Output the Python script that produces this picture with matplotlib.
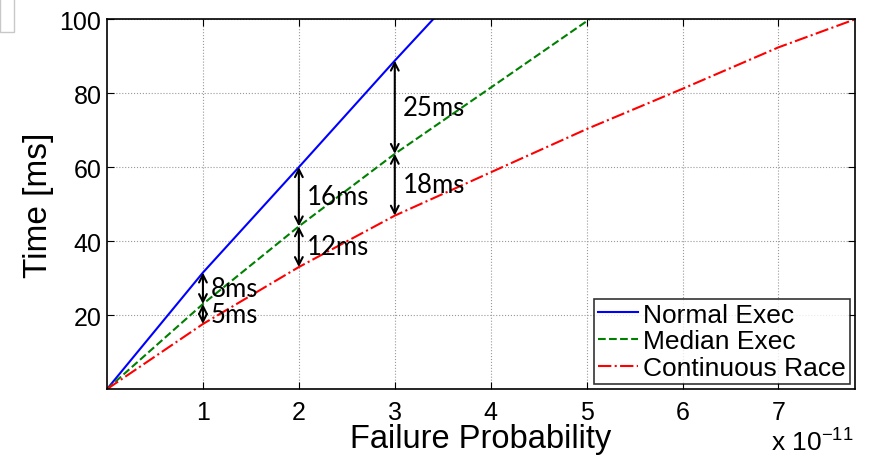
import matplotlib
matplotlib.use('Agg')
import matplotlib.pyplot as plt
from matplotlib.patches import Rectangle

# failure probability (x 1e-11) and time in ms
x_normal = [0, 1, 2, 3, 3.4]
normal = [0, 31.5, 60, 88.8, 100]
x_median = [0, 1, 2, 3, 4, 5.03]
median = [0, 23, 44, 63.6, 81.5, 100]
x_race = [0, 1, 2, 3, 4, 5, 6, 7, 7.8]
race = [0, 17.6, 33, 46.9, 58.6, 70.3, 81.2, 92.4, 100]

# gaps marked with arrows at x = 1, 2, 3
gap_x = [1, 2, 3]
gap_top = ['8ms', '16ms', '25ms']
gap_bottom = ['5ms', '12ms', '18ms']

plt.rcParams['font.family'] = ['Liberation Sans', 'DejaVu Sans']

fig = plt.figure(figsize=(8.7, 4.6), dpi=100)
ax = fig.add_axes([0.123, 0.152, 0.86, 0.804])

ax.plot(x_normal, normal, '-', color='#0000ff', lw=1.5, label='Normal Exec')
ax.plot(x_median, median, '--', color='#008000', lw=1.5, label='Median Exec')
ax.plot(x_race, race, '-.', color='#ff0000', lw=1.5, label='Continuous Race')

for i, gx in enumerate(gap_x):
    n = normal[x_normal.index(gx)]
    m = median[x_median.index(gx)]
    r = race[x_race.index(gx)]
    for top, bot, lab in [(n, m, gap_top[i]), (m, r, gap_bottom[i])]:
        ax.annotate('', xy=(gx, bot), xytext=(gx, top),
                    arrowprops=dict(arrowstyle='<->,head_length=0.55,head_width=0.28',
                                    color='black', lw=1.5, shrinkA=0, shrinkB=0))
        ax.text(gx + 0.08, (top + bot) / 2, lab, fontsize=18.5, family='Lato',
                va='center', ha='left')

ax.set_xlim(0, 7.8)
ax.set_ylim(0, 100)
ax.set_xticks([1, 2, 3, 4, 5, 6, 7])
ax.set_yticks([20, 40, 60, 80, 100])
ax.grid(True, ls=':', color='#999999', lw=0.8)
ax.tick_params(direction='in', top=True, right=True, labelsize=18, length=5)
ax.tick_params(axis='x', pad=8)
ax.tick_params(axis='y', pad=4)
for s in ax.spines.values():
    s.set_linewidth(1.2)

ax.set_xlabel('Failure Probability', fontsize=23.5, labelpad=-1)
ax.set_ylabel('Time [ms]', fontsize=24, labelpad=4)

fig.text(0.886, 0.008, r'x $\mathregular{10^{-11}}$', fontsize=19, ha='left', va='bottom')

leg = ax.legend(loc='lower right', fontsize=19, frameon=True, fancybox=False,
                edgecolor='black', handlelength=1.5, handletextpad=0.2,
                borderpad=0.15, labelspacing=0.1, borderaxespad=0.2)
leg.get_frame().set_linewidth(1.2)

# small window fragment in the top-left corner
fig.patches.append(Rectangle((0, 0.928), 0.016, 0.075, transform=fig.transFigure,
                             fill=False, edgecolor='#c8c8c8', lw=1))

fig.savefig('out.png', dpi=100)
